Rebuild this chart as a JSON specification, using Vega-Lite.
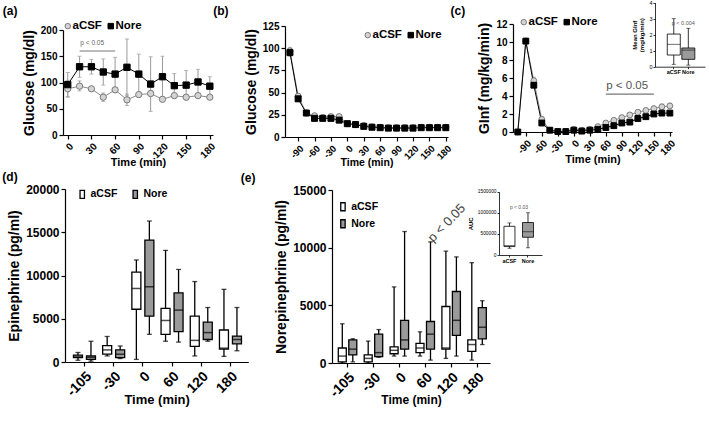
{
"$schema": "https://vega.github.io/schema/vega-lite/v6.json",
"width": 709, "height": 422,
"autosize": {"type": "none"},
"padding": 0,
"background": "white",
"config": {
 "font": "Liberation Sans",
 "view": {"stroke": null},
 "axis": {"grid": false, "domainColor": "#000", "tickColor": "#000", "labelColor": "#000", "titleColor": "#000", "domainWidth": 1.2, "tickWidth": 1.2, "tickSize": 4, "labelFontWeight": "bold", "titleFontWeight": "bold", "labelOverlap": false, "labelFlush": false, "labelPadding": 2},
 "legend": {"labelColor": "#000", "padding": 0}
},
"datasets": {
 "series": [
  {"panel":"a","group":"aCSF","time":0,"mean":88,"lo":72,"hi":104},
  {"panel":"a","group":"aCSF","time":15,"mean":93,"lo":84,"hi":103},
  {"panel":"a","group":"aCSF","time":30,"mean":88,"lo":86,"hi":90},
  {"panel":"a","group":"aCSF","time":45,"mean":72,"lo":64,"hi":80},
  {"panel":"a","group":"aCSF","time":60,"mean":86,"lo":82,"hi":90},
  {"panel":"a","group":"aCSF","time":75,"mean":67,"lo":56,"hi":78},
  {"panel":"a","group":"aCSF","time":90,"mean":77,"lo":73,"hi":81},
  {"panel":"a","group":"aCSF","time":105,"mean":79,"lo":74,"hi":84},
  {"panel":"a","group":"aCSF","time":120,"mean":68,"lo":66,"hi":70},
  {"panel":"a","group":"aCSF","time":135,"mean":75,"lo":72,"hi":78},
  {"panel":"a","group":"aCSF","time":150,"mean":72,"lo":69,"hi":75},
  {"panel":"a","group":"aCSF","time":165,"mean":75,"lo":72,"hi":78},
  {"panel":"a","group":"aCSF","time":180,"mean":72,"lo":69,"hi":75},
  {"panel":"a","group":"Nore","time":0,"mean":96,"lo":73,"hi":119},
  {"panel":"a","group":"Nore","time":15,"mean":130,"lo":110,"hi":150},
  {"panel":"a","group":"Nore","time":30,"mean":130,"lo":116,"hi":144},
  {"panel":"a","group":"Nore","time":45,"mean":120,"lo":95,"hi":145},
  {"panel":"a","group":"Nore","time":60,"mean":116,"lo":84,"hi":148},
  {"panel":"a","group":"Nore","time":75,"mean":129,"lo":75,"hi":183},
  {"panel":"a","group":"Nore","time":90,"mean":116,"lo":78,"hi":154},
  {"panel":"a","group":"Nore","time":105,"mean":97,"lo":45,"hi":149},
  {"panel":"a","group":"Nore","time":120,"mean":111,"lo":72,"hi":150},
  {"panel":"a","group":"Nore","time":135,"mean":94,"lo":71,"hi":117},
  {"panel":"a","group":"Nore","time":150,"mean":95,"lo":67,"hi":123},
  {"panel":"a","group":"Nore","time":165,"mean":101,"lo":77,"hi":125},
  {"panel":"a","group":"Nore","time":180,"mean":93,"lo":75,"hi":111},
  {"panel":"b","group":"aCSF","time":-105,"mean":97,"lo":93,"hi":101},
  {"panel":"b","group":"aCSF","time":-90,"mean":46,"lo":43,"hi":49},
  {"panel":"b","group":"aCSF","time":-75,"mean":27,"lo":25.5,"hi":28.5},
  {"panel":"b","group":"aCSF","time":-60,"mean":24,"lo":22,"hi":26},
  {"panel":"b","group":"aCSF","time":-45,"mean":22,"lo":20,"hi":24},
  {"panel":"b","group":"aCSF","time":-30,"mean":23,"lo":21,"hi":25},
  {"panel":"b","group":"aCSF","time":-15,"mean":23,"lo":21,"hi":25},
  {"panel":"b","group":"aCSF","time":0,"mean":15,"lo":14,"hi":16},
  {"panel":"b","group":"aCSF","time":15,"mean":14,"lo":13,"hi":15},
  {"panel":"b","group":"aCSF","time":30,"mean":13,"lo":12,"hi":14},
  {"panel":"b","group":"aCSF","time":45,"mean":11.5,"lo":10.5,"hi":12.5},
  {"panel":"b","group":"aCSF","time":60,"mean":11,"lo":10,"hi":12},
  {"panel":"b","group":"aCSF","time":75,"mean":10.5,"lo":9.5,"hi":11.5},
  {"panel":"b","group":"aCSF","time":90,"mean":10.5,"lo":9.5,"hi":11.5},
  {"panel":"b","group":"aCSF","time":105,"mean":10.5,"lo":9.5,"hi":11.5},
  {"panel":"b","group":"aCSF","time":120,"mean":10.5,"lo":9.5,"hi":11.5},
  {"panel":"b","group":"aCSF","time":135,"mean":11,"lo":10,"hi":12},
  {"panel":"b","group":"aCSF","time":150,"mean":11,"lo":10,"hi":12},
  {"panel":"b","group":"aCSF","time":165,"mean":11,"lo":10,"hi":12},
  {"panel":"b","group":"aCSF","time":180,"mean":11,"lo":10,"hi":12},
  {"panel":"b","group":"Nore","time":-105,"mean":95,"lo":91,"hi":99},
  {"panel":"b","group":"Nore","time":-90,"mean":43,"lo":40,"hi":46},
  {"panel":"b","group":"Nore","time":-75,"mean":27,"lo":25.5,"hi":28.5},
  {"panel":"b","group":"Nore","time":-60,"mean":21,"lo":19,"hi":23},
  {"panel":"b","group":"Nore","time":-45,"mean":21,"lo":19,"hi":23},
  {"panel":"b","group":"Nore","time":-30,"mean":21,"lo":19,"hi":23},
  {"panel":"b","group":"Nore","time":-15,"mean":19,"lo":17,"hi":21},
  {"panel":"b","group":"Nore","time":0,"mean":15,"lo":14,"hi":16},
  {"panel":"b","group":"Nore","time":15,"mean":14,"lo":13,"hi":15},
  {"panel":"b","group":"Nore","time":30,"mean":12,"lo":11,"hi":13},
  {"panel":"b","group":"Nore","time":45,"mean":11,"lo":10,"hi":12},
  {"panel":"b","group":"Nore","time":60,"mean":10.5,"lo":9.5,"hi":11.5},
  {"panel":"b","group":"Nore","time":75,"mean":10,"lo":9,"hi":11},
  {"panel":"b","group":"Nore","time":90,"mean":10,"lo":9,"hi":11},
  {"panel":"b","group":"Nore","time":105,"mean":10,"lo":9,"hi":11},
  {"panel":"b","group":"Nore","time":120,"mean":10,"lo":9,"hi":11},
  {"panel":"b","group":"Nore","time":135,"mean":10.5,"lo":9.5,"hi":11.5},
  {"panel":"b","group":"Nore","time":150,"mean":10.5,"lo":9.5,"hi":11.5},
  {"panel":"b","group":"Nore","time":165,"mean":10.5,"lo":9.5,"hi":11.5},
  {"panel":"b","group":"Nore","time":180,"mean":10.5,"lo":9.5,"hi":11.5},
  {"panel":"c","group":"aCSF","time":-105,"mean":0,"lo":0,"hi":0},
  {"panel":"c","group":"aCSF","time":-90,"mean":10.1,"lo":9.8,"hi":10.4},
  {"panel":"c","group":"aCSF","time":-75,"mean":5.7,"lo":5.3,"hi":6.1},
  {"panel":"c","group":"aCSF","time":-60,"mean":1.4,"lo":1.1,"hi":1.7},
  {"panel":"c","group":"aCSF","time":-45,"mean":0.2,"lo":0.1,"hi":0.3},
  {"panel":"c","group":"aCSF","time":-30,"mean":0.05,"lo":0,"hi":0.1},
  {"panel":"c","group":"aCSF","time":-15,"mean":0.05,"lo":0,"hi":0.1},
  {"panel":"c","group":"aCSF","time":0,"mean":0.3,"lo":0.2,"hi":0.4},
  {"panel":"c","group":"aCSF","time":15,"mean":0.2,"lo":0.1,"hi":0.3},
  {"panel":"c","group":"aCSF","time":30,"mean":0.3,"lo":0.2,"hi":0.4},
  {"panel":"c","group":"aCSF","time":45,"mean":0.6,"lo":0.5,"hi":0.7},
  {"panel":"c","group":"aCSF","time":60,"mean":1.0,"lo":0.85,"hi":1.15},
  {"panel":"c","group":"aCSF","time":75,"mean":1.3,"lo":1.15,"hi":1.45},
  {"panel":"c","group":"aCSF","time":90,"mean":1.6,"lo":1.45,"hi":1.75},
  {"panel":"c","group":"aCSF","time":105,"mean":1.9,"lo":1.75,"hi":2.05},
  {"panel":"c","group":"aCSF","time":120,"mean":2.2,"lo":2.0,"hi":2.4},
  {"panel":"c","group":"aCSF","time":135,"mean":2.4,"lo":2.2,"hi":2.6},
  {"panel":"c","group":"aCSF","time":150,"mean":2.6,"lo":2.35,"hi":2.85},
  {"panel":"c","group":"aCSF","time":165,"mean":2.8,"lo":2.5,"hi":3.1},
  {"panel":"c","group":"aCSF","time":180,"mean":2.9,"lo":2.6,"hi":3.2},
  {"panel":"c","group":"Nore","time":-105,"mean":0,"lo":0,"hi":0},
  {"panel":"c","group":"Nore","time":-90,"mean":10.1,"lo":9.8,"hi":10.4},
  {"panel":"c","group":"Nore","time":-75,"mean":5.2,"lo":4.9,"hi":5.5},
  {"panel":"c","group":"Nore","time":-60,"mean":1.0,"lo":0.7,"hi":1.3},
  {"panel":"c","group":"Nore","time":-45,"mean":0.2,"lo":0.1,"hi":0.3},
  {"panel":"c","group":"Nore","time":-30,"mean":0.05,"lo":0,"hi":0.1},
  {"panel":"c","group":"Nore","time":-15,"mean":0.05,"lo":0,"hi":0.1},
  {"panel":"c","group":"Nore","time":0,"mean":0.2,"lo":0.1,"hi":0.3},
  {"panel":"c","group":"Nore","time":15,"mean":0.1,"lo":0.05,"hi":0.15},
  {"panel":"c","group":"Nore","time":30,"mean":0.2,"lo":0.1,"hi":0.3},
  {"panel":"c","group":"Nore","time":45,"mean":0.3,"lo":0.2,"hi":0.4},
  {"panel":"c","group":"Nore","time":60,"mean":0.5,"lo":0.4,"hi":0.6},
  {"panel":"c","group":"Nore","time":75,"mean":0.7,"lo":0.6,"hi":0.8},
  {"panel":"c","group":"Nore","time":90,"mean":1.0,"lo":0.9,"hi":1.1},
  {"panel":"c","group":"Nore","time":105,"mean":1.1,"lo":1.0,"hi":1.2},
  {"panel":"c","group":"Nore","time":120,"mean":1.5,"lo":1.4,"hi":1.6},
  {"panel":"c","group":"Nore","time":135,"mean":1.7,"lo":1.6,"hi":1.8},
  {"panel":"c","group":"Nore","time":150,"mean":2.0,"lo":1.9,"hi":2.1},
  {"panel":"c","group":"Nore","time":165,"mean":2.1,"lo":2.0,"hi":2.2},
  {"panel":"c","group":"Nore","time":180,"mean":2.1,"lo":2.0,"hi":2.2}
 ],
 "boxes": [
  {"panel":"d","group":"aCSF","time":-105,"min":200,"q1":500,"med":650,"q3":800,"max":1100},
  {"panel":"d","group":"Nore","time":-105,"min":100,"q1":300,"med":550,"q3":700,"max":2400},
  {"panel":"d","group":"aCSF","time":-30,"min":700,"q1":900,"med":1400,"q3":1900,"max":2950},
  {"panel":"d","group":"Nore","time":-30,"min":400,"q1":500,"med":900,"q3":1400,"max":1850},
  {"panel":"d","group":"aCSF","time":0,"min":300,"q1":6100,"med":8500,"q3":10400,"max":11800},
  {"panel":"d","group":"Nore","time":0,"min":3200,"q1":5300,"med":8700,"q3":14100,"max":16300},
  {"panel":"d","group":"aCSF","time":60,"min":2400,"q1":3200,"med":4800,"q3":6200,"max":12900},
  {"panel":"d","group":"Nore","time":60,"min":2300,"q1":3500,"med":6000,"q3":8000,"max":10700},
  {"panel":"d","group":"aCSF","time":120,"min":700,"q1":1800,"med":2500,"q3":5300,"max":9300},
  {"panel":"d","group":"Nore","time":120,"min":2400,"q1":2600,"med":3400,"q3":4600,"max":6300},
  {"panel":"d","group":"aCSF","time":180,"min":650,"q1":1500,"med":1600,"q3":3700,"max":8400},
  {"panel":"d","group":"Nore","time":180,"min":1300,"q1":2100,"med":2600,"q3":3000,"max":6300},
  {"panel":"e","group":"aCSF","time":-105,"min":0,"q1":100,"med":600,"q3":1300,"max":3400},
  {"panel":"e","group":"Nore","time":-105,"min":100,"q1":700,"med":1200,"q3":2000,"max":2100},
  {"panel":"e","group":"aCSF","time":-30,"min":0,"q1":100,"med":400,"q3":700,"max":1900},
  {"panel":"e","group":"Nore","time":-30,"min":500,"q1":550,"med":900,"q3":2500,"max":2900},
  {"panel":"e","group":"aCSF","time":0,"min":600,"q1":800,"med":1100,"q3":1400,"max":6600},
  {"panel":"e","group":"Nore","time":0,"min":600,"q1":1200,"med":2000,"q3":3700,"max":11400},
  {"panel":"e","group":"aCSF","time":60,"min":600,"q1":900,"med":1300,"q3":1700,"max":2700},
  {"panel":"e","group":"Nore","time":60,"min":250,"q1":1200,"med":2500,"q3":3600,"max":10500},
  {"panel":"e","group":"aCSF","time":120,"min":400,"q1":1200,"med":1300,"q3":4900,"max":9700},
  {"panel":"e","group":"Nore","time":120,"min":600,"q1":2400,"med":3700,"q3":6200,"max":9200},
  {"panel":"e","group":"aCSF","time":180,"min":250,"q1":1000,"med":1600,"q3":2000,"max":8700},
  {"panel":"e","group":"Nore","time":180,"min":1600,"q1":2100,"med":3100,"q3":4800,"max":5400},
  {"panel":"ci","group":"aCSF","min":0.15,"q1":0.73,"med":1.4,"q3":2.04,"max":3.0},
  {"panel":"ci","group":"Nore","min":0.1,"q1":0.46,"med":1.04,"q3":1.17,"max":2.4},
  {"panel":"ei","group":"aCSF","min":160000,"q1":200000,"med":230000,"q3":680000,"max":760000},
  {"panel":"ei","group":"Nore","min":170000,"q1":420000,"med":550000,"q3":770000,"max":1000000}
 ]
},
"resolve": {"scale": {"x": "independent", "y": "independent", "xOffset": "independent", "fill": "independent", "stroke": "independent", "shape": "independent"}},
"layer": [
 {
  "data": {"name": "series"},
  "transform": [{"filter": "datum.panel === 'a'"}],
  "encoding": {
   "x": {"field": "time", "type": "quantitative", "scale": {"domain": [-6, 184], "range": [63, 213], "nice": false, "zero": false}, "axis": {"orient": "bottom", "offset": -287, "values": [0,30,60,90,120,150,180], "labelAngle": 315, "labelFontSize": 10, "title": "Time (min)", "titleFontSize": 11, "titlePadding": -3, "encoding": {"title": {"update": {"x": {"value": 140}, "y": {"value": 27}, "angle": {"value": 0}, "align": {"value": "center"}, "baseline": {"value": "middle"}}}}}}
  },
  "layer": [
   {"mark": {"type": "rule", "color": "#9a9a9a", "strokeWidth": 1},
    "encoding": {
     "y": {"field": "lo", "type": "quantitative", "scale": {"domain": [0, 200], "range": [135, 30], "nice": false, "zero": false}, "axis": {"orient": "left", "offset": -63, "values": [0,50,100,150,200], "format": "d", "labelFontSize": 10, "title": "Glucose (mg/dl)", "titleFontSize": 14, "encoding": {"title": {"update": {"x": {"value": -33.5}, "y": {"value": 79}, "angle": {"value": 270}, "align": {"value": "center"}, "baseline": {"value": "middle"}}}}}},
     "y2": {"field": "hi"}}},
   {"mark": {"type": "tick", "orient": "horizontal", "size": 4, "thickness": 1, "color": "#9a9a9a"},
    "encoding": {
     "y": {"field": "hi", "type": "quantitative", "scale": {"domain": [0, 200], "range": [135, 30], "nice": false, "zero": false}}}},
   {"mark": {"type": "tick", "orient": "horizontal", "size": 4, "thickness": 1, "color": "#9a9a9a"},
    "encoding": {
     "y": {"field": "lo", "type": "quantitative", "scale": {"domain": [0, 200], "range": [135, 30], "nice": false, "zero": false}}}},
   {"mark": {"type": "line", "strokeWidth": 1},
    "encoding": {
     "y": {"field": "mean", "type": "quantitative", "scale": {"domain": [0, 200], "range": [135, 30], "nice": false, "zero": false}},
     "detail": {"field": "group"},
     "stroke": {"condition": {"test": "datum.group === 'Nore'", "value": "#000000"}, "value": "#8c8c8c"}}},
   {"mark": {"type": "point", "filled": true, "opacity": 1, "size": 40, "strokeWidth": 1},
    "encoding": {
     "y": {"field": "mean", "type": "quantitative", "scale": {"domain": [0, 200], "range": [135, 30], "nice": false, "zero": false}},
     "shape": {"field": "group", "type": "nominal", "scale": {"domain": ["aCSF", "Nore"], "range": ["circle", "square"]}, "legend": {"orient": "none", "legendX": 62, "legendY": 20, "direction": "horizontal", "title": null, "labelFontSize": 11.5, "labelFontWeight": "bold", "labelOffset": -1, "columnPadding": 3, "symbolSize": 30, "symbolStrokeWidth": 1, "symbolOpacity": 1, "padding": 0}},
     "fill": {"field": "group", "type": "nominal", "scale": {"domain": ["aCSF", "Nore"], "range": ["#d4d4d4", "#000000"]}, "legend": {"orient": "none", "legendX": 62, "legendY": 20, "direction": "horizontal", "title": null, "labelFontSize": 11.5, "labelFontWeight": "bold", "labelOffset": -1, "columnPadding": 3, "symbolSize": 30, "symbolStrokeWidth": 1, "symbolOpacity": 1, "padding": 0}},
     "stroke": {"field": "group", "type": "nominal", "scale": {"domain": ["aCSF", "Nore"], "range": ["#7a7a7a", "#000000"]}, "legend": {"orient": "none", "legendX": 62, "legendY": 20, "direction": "horizontal", "title": null, "labelFontSize": 11.5, "labelFontWeight": "bold", "labelOffset": -1, "columnPadding": 3, "symbolSize": 30, "symbolStrokeWidth": 1, "symbolOpacity": 1, "padding": 0}}}},
   {"data": {"values": [{"x1": 15, "x2": 60, "yv": 160}]},
    "mark": {"type": "rule", "color": "#777777", "strokeWidth": 1.2},
    "encoding": {
     "x": {"field": "x1", "type": "quantitative", "scale": {"domain": [-6, 184], "range": [63, 213], "nice": false, "zero": false}},
     "x2": {"field": "x2"},
     "y": {"field": "yv", "type": "quantitative", "scale": {"domain": [0, 200], "range": [135, 30], "nice": false, "zero": false}}}},
   {"data": {"values": [{"xv": 31, "yv": 174.7, "label": "p < 0.05"}]},
    "mark": {"type": "text", "fontSize": 6.5, "color": "#666666", "align": "center", "baseline": "middle"},
    "encoding": {
     "text": {"field": "label"},
     "x": {"field": "xv", "type": "quantitative", "scale": {"domain": [-6, 184], "range": [63, 213], "nice": false, "zero": false}},
     "y": {"field": "yv", "type": "quantitative", "scale": {"domain": [0, 200], "range": [135, 30], "nice": false, "zero": false}}}},
   {"data": {"values": [{"xv": 0, "yv": 200, "label": "(a)"}]},
    "mark": {"type": "text", "fontSize": 12, "fontWeight": "bold", "color": "#000", "align": "center", "baseline": "middle", "dx": -57.7, "dy": -19},
    "encoding": {
     "text": {"field": "label"},
     "x": {"field": "xv", "type": "quantitative", "scale": {"domain": [-6, 184], "range": [63, 213], "nice": false, "zero": false}},
     "y": {"field": "yv", "type": "quantitative", "scale": {"domain": [0, 200], "range": [135, 30], "nice": false, "zero": false}}}}
  ]
 },
 {
  "data": {"name": "series"},
  "transform": [{"filter": "datum.panel === 'b'"}],
  "encoding": {
   "x": {"field": "time", "type": "quantitative", "scale": {"domain": [-114, 184], "range": [285, 448], "nice": false, "zero": false}, "axis": {"orient": "bottom", "offset": -285, "values": [-90,-60,-30,0,30,60,90,120,150,180], "labelExpr": "'' + datum.value", "labelAngle": 315, "labelFontSize": 9.5, "title": "Time (min)", "titleFontSize": 10.5, "titlePadding": -3, "encoding": {"title": {"update": {"x": {"value": 372}, "y": {"value": 33}, "angle": {"value": 0}, "align": {"value": "center"}, "baseline": {"value": "middle"}}}}}}
  },
  "layer": [
   {"mark": {"type": "rule", "color": "#9a9a9a", "strokeWidth": 1},
    "encoding": {
     "y": {"field": "lo", "type": "quantitative", "scale": {"domain": [0, 125], "range": [137, 26], "nice": false, "zero": false}, "axis": {"orient": "left", "offset": -285, "values": [0,25,50,75,100,125], "format": "d", "labelFontSize": 10, "title": "Glucose (mg/dl)", "titleFontSize": 14, "encoding": {"title": {"update": {"x": {"value": -36}, "y": {"value": 74}, "angle": {"value": 270}, "align": {"value": "center"}, "baseline": {"value": "middle"}}}}}},
     "y2": {"field": "hi"}}},
   {"mark": {"type": "tick", "orient": "horizontal", "size": 4, "thickness": 1, "color": "#9a9a9a"},
    "encoding": {
     "y": {"field": "hi", "type": "quantitative", "scale": {"domain": [0, 125], "range": [137, 26], "nice": false, "zero": false}}}},
   {"mark": {"type": "tick", "orient": "horizontal", "size": 4, "thickness": 1, "color": "#9a9a9a"},
    "encoding": {
     "y": {"field": "lo", "type": "quantitative", "scale": {"domain": [0, 125], "range": [137, 26], "nice": false, "zero": false}}}},
   {"mark": {"type": "line", "strokeWidth": 1},
    "encoding": {
     "y": {"field": "mean", "type": "quantitative", "scale": {"domain": [0, 125], "range": [137, 26], "nice": false, "zero": false}},
     "detail": {"field": "group"},
     "stroke": {"condition": {"test": "datum.group === 'Nore'", "value": "#000000"}, "value": "#8c8c8c"}}},
   {"mark": {"type": "point", "filled": true, "opacity": 1, "size": 36, "strokeWidth": 1},
    "encoding": {
     "y": {"field": "mean", "type": "quantitative", "scale": {"domain": [0, 125], "range": [137, 26], "nice": false, "zero": false}},
     "shape": {"field": "group", "type": "nominal", "scale": {"domain": ["aCSF", "Nore"], "range": ["circle", "square"]}, "legend": {"orient": "none", "legendX": 362, "legendY": 29, "direction": "horizontal", "title": null, "labelFontSize": 11.5, "labelFontWeight": "bold", "labelOffset": -1, "columnPadding": 3, "symbolSize": 30, "symbolStrokeWidth": 1, "symbolOpacity": 1, "padding": 0}},
     "fill": {"field": "group", "type": "nominal", "scale": {"domain": ["aCSF", "Nore"], "range": ["#d4d4d4", "#000000"]}, "legend": {"orient": "none", "legendX": 362, "legendY": 29, "direction": "horizontal", "title": null, "labelFontSize": 11.5, "labelFontWeight": "bold", "labelOffset": -1, "columnPadding": 3, "symbolSize": 30, "symbolStrokeWidth": 1, "symbolOpacity": 1, "padding": 0}},
     "stroke": {"field": "group", "type": "nominal", "scale": {"domain": ["aCSF", "Nore"], "range": ["#7a7a7a", "#000000"]}, "legend": {"orient": "none", "legendX": 362, "legendY": 29, "direction": "horizontal", "title": null, "labelFontSize": 11.5, "labelFontWeight": "bold", "labelOffset": -1, "columnPadding": 3, "symbolSize": 30, "symbolStrokeWidth": 1, "symbolOpacity": 1, "padding": 0}}}},
   {"data": {"values": [{"xv": -105, "yv": 125, "label": "(b)"}]},
    "mark": {"type": "text", "fontSize": 12, "fontWeight": "bold", "color": "#000", "align": "center", "baseline": "middle", "dx": -69, "dy": -15},
    "encoding": {
     "text": {"field": "label"},
     "x": {"field": "xv", "type": "quantitative", "scale": {"domain": [-114, 184], "range": [285, 448], "nice": false, "zero": false}},
     "y": {"field": "yv", "type": "quantitative", "scale": {"domain": [0, 125], "range": [137, 26], "nice": false, "zero": false}}}}
  ]
 },
 {
  "data": {"name": "series"},
  "transform": [{"filter": "datum.panel === 'c'"}],
  "encoding": {
   "x": {"field": "time", "type": "quantitative", "scale": {"domain": [-114, 184], "range": [513, 672], "nice": false, "zero": false}, "axis": {"orient": "bottom", "offset": -290, "values": [-90,-60,-30,0,30,60,90,120,150,180], "labelExpr": "'' + datum.value", "labelAngle": 315, "labelFontSize": 10, "title": "Time (min)", "titleFontSize": 11, "titlePadding": -3, "encoding": {"title": {"update": {"x": {"value": 598}, "y": {"value": 31}, "angle": {"value": 0}, "align": {"value": "center"}, "baseline": {"value": "middle"}}}}}}
  },
  "layer": [
   {"mark": {"type": "rule", "color": "#9a9a9a", "strokeWidth": 1},
    "encoding": {
     "y": {"field": "lo", "type": "quantitative", "scale": {"domain": [0, 12], "range": [132, 24], "nice": false, "zero": false}, "axis": {"orient": "left", "offset": -513, "values": [0,2,4,6,8,10,12], "format": "d", "labelFontSize": 10, "title": "GInf (mg/kg/min)", "titleFontSize": 14, "encoding": {"title": {"update": {"x": {"value": -29}, "y": {"value": 72}, "angle": {"value": 270}, "align": {"value": "center"}, "baseline": {"value": "middle"}}}}}},
     "y2": {"field": "hi"}}},
   {"mark": {"type": "tick", "orient": "horizontal", "size": 4, "thickness": 1, "color": "#9a9a9a"},
    "encoding": {
     "y": {"field": "hi", "type": "quantitative", "scale": {"domain": [0, 12], "range": [132, 24], "nice": false, "zero": false}}}},
   {"mark": {"type": "tick", "orient": "horizontal", "size": 4, "thickness": 1, "color": "#9a9a9a"},
    "encoding": {
     "y": {"field": "lo", "type": "quantitative", "scale": {"domain": [0, 12], "range": [132, 24], "nice": false, "zero": false}}}},
   {"mark": {"type": "line", "strokeWidth": 1},
    "encoding": {
     "y": {"field": "mean", "type": "quantitative", "scale": {"domain": [0, 12], "range": [132, 24], "nice": false, "zero": false}},
     "detail": {"field": "group"},
     "stroke": {"condition": {"test": "datum.group === 'Nore'", "value": "#000000"}, "value": "#8c8c8c"}}},
   {"mark": {"type": "point", "filled": true, "opacity": 1, "size": 34, "strokeWidth": 1},
    "encoding": {
     "y": {"field": "mean", "type": "quantitative", "scale": {"domain": [0, 12], "range": [132, 24], "nice": false, "zero": false}},
     "shape": {"field": "group", "type": "nominal", "scale": {"domain": ["aCSF", "Nore"], "range": ["circle", "square"]}, "legend": {"orient": "none", "legendX": 518, "legendY": 16, "direction": "horizontal", "title": null, "labelFontSize": 11.5, "labelFontWeight": "bold", "labelOffset": -1, "columnPadding": 3, "symbolSize": 30, "symbolStrokeWidth": 1, "symbolOpacity": 1, "padding": 0}},
     "fill": {"field": "group", "type": "nominal", "scale": {"domain": ["aCSF", "Nore"], "range": ["#d4d4d4", "#000000"]}, "legend": {"orient": "none", "legendX": 518, "legendY": 16, "direction": "horizontal", "title": null, "labelFontSize": 11.5, "labelFontWeight": "bold", "labelOffset": -1, "columnPadding": 3, "symbolSize": 30, "symbolStrokeWidth": 1, "symbolOpacity": 1, "padding": 0}},
     "stroke": {"field": "group", "type": "nominal", "scale": {"domain": ["aCSF", "Nore"], "range": ["#7a7a7a", "#000000"]}, "legend": {"orient": "none", "legendX": 518, "legendY": 16, "direction": "horizontal", "title": null, "labelFontSize": 11.5, "labelFontWeight": "bold", "labelOffset": -1, "columnPadding": 3, "symbolSize": 30, "symbolStrokeWidth": 1, "symbolOpacity": 1, "padding": 0}}}},
   {"data": {"values": [{"x1": 60, "x2": 150, "yv": 4.2}]},
    "mark": {"type": "rule", "color": "#777777", "strokeWidth": 1.2},
    "encoding": {
     "x": {"field": "x1", "type": "quantitative", "scale": {"domain": [-114, 184], "range": [513, 672], "nice": false, "zero": false}},
     "x2": {"field": "x2"},
     "y": {"field": "yv", "type": "quantitative", "scale": {"domain": [0, 12], "range": [132, 24], "nice": false, "zero": false}}}},
   {"data": {"values": [{"xv": 100, "yv": 5.1, "label": "p < 0.05"}]},
    "mark": {"type": "text", "fontSize": 11.5, "color": "#555555", "align": "center", "baseline": "middle"},
    "encoding": {
     "text": {"field": "label"},
     "x": {"field": "xv", "type": "quantitative", "scale": {"domain": [-114, 184], "range": [513, 672], "nice": false, "zero": false}},
     "y": {"field": "yv", "type": "quantitative", "scale": {"domain": [0, 12], "range": [132, 24], "nice": false, "zero": false}}}},
   {"data": {"values": [{"xv": -105, "yv": 12, "label": "(c)"}]},
    "mark": {"type": "text", "fontSize": 12, "fontWeight": "bold", "color": "#000", "align": "center", "baseline": "middle", "dx": -60, "dy": -13},
    "encoding": {
     "text": {"field": "label"},
     "x": {"field": "xv", "type": "quantitative", "scale": {"domain": [-114, 184], "range": [513, 672], "nice": false, "zero": false}},
     "y": {"field": "yv", "type": "quantitative", "scale": {"domain": [0, 12], "range": [132, 24], "nice": false, "zero": false}}}}
  ]
 },
 {
  "data": {"name": "boxes"},
  "transform": [{"filter": "datum.panel === 'ci'"}],
  "encoding": {
   "x": {"field": "group", "type": "nominal", "scale": {"type": "band", "domain": ["aCSF", "Nore"], "range": [655, 705], "paddingInner": 0, "paddingOuter": 0.72, "align": 0.55}, "axis": {"orient": "bottom", "offset": -355.3, "labelAngle": 0, "labelFontSize": 5.5, "tickSize": 2, "labelPadding": 1, "domainWidth": 0.8, "tickWidth": 0.8, "title": null}}
  },
  "layer": [
   {"mark": {"type": "rule", "color": "#000", "strokeWidth": 0.8},
    "encoding": {
     "y": {"field": "min", "type": "quantitative", "scale": {"domain": [0, 4], "range": [66.7, 2.7], "nice": false, "zero": false}, "axis": {"orient": "left", "offset": -655, "values": [0,1,2,3,4], "format": "d", "labelFontSize": 5.5, "labelFontWeight": "normal", "tickSize": 2, "labelPadding": 1, "domainWidth": 0.8, "tickWidth": 0.8, "title": ["Mean GInf", "(mg/kg/min)"], "titleFontSize": 6, "titleLineHeight": 7, "encoding": {"title": {"update": {"x": {"value": -11}, "y": {"value": 31}, "angle": {"value": 270}, "align": {"value": "center"}, "baseline": {"value": "middle"}}}}}},
     "y2": {"field": "max"}}},
   {"mark": {"type": "tick", "orient": "horizontal", "size": 4, "thickness": 0.8, "color": "#000"},
    "encoding": {
     "y": {"field": "max", "type": "quantitative", "scale": {"domain": [0, 4], "range": [66.7, 2.7], "nice": false, "zero": false}}}},
   {"mark": {"type": "tick", "orient": "horizontal", "size": 4, "thickness": 0.8, "color": "#000"},
    "encoding": {
     "y": {"field": "min", "type": "quantitative", "scale": {"domain": [0, 4], "range": [66.7, 2.7], "nice": false, "zero": false}}}},
   {"mark": {"type": "bar", "width": 13, "stroke": "#000", "strokeWidth": 0.8},
    "encoding": {
     "y": {"field": "q1", "type": "quantitative", "scale": {"domain": [0, 4], "range": [66.7, 2.7], "nice": false, "zero": false}},
     "y2": {"field": "q3"},
     "fill": {"field": "group", "type": "nominal", "scale": {"domain": ["aCSF", "Nore"], "range": ["#ffffff", "#9a9a9a"]}, "legend": null}}},
   {"mark": {"type": "tick", "orient": "horizontal", "size": 13, "thickness": 0.8, "color": "#000"},
    "encoding": {
     "y": {"field": "med", "type": "quantitative", "scale": {"domain": [0, 4], "range": [66.7, 2.7], "nice": false, "zero": false}}}},
   {"data": {"values": [{"group": "Nore", "yv": 2.75, "label": "p < 0.004"}]},
    "mark": {"type": "text", "fontSize": 5.5, "color": "#555555", "align": "center", "baseline": "middle", "dx": -5},
    "encoding": {
     "text": {"field": "label"},
     "y": {"field": "yv", "type": "quantitative", "scale": {"domain": [0, 4], "range": [66.7, 2.7], "nice": false, "zero": false}}}}
  ]
 },
 {
  "data": {"name": "boxes"},
  "transform": [{"filter": "datum.panel === 'd'"}],
  "encoding": {
   "x": {"field": "time", "type": "ordinal", "scale": {"type": "band", "domain": [-105,-30,0,60,120,180], "range": [65, 248.3], "paddingInner": 0, "paddingOuter": 0.139, "align": 0.6}, "axis": {"orient": "bottom", "offset": -60, "labelAngle": 315, "labelFontSize": 14, "labelPadding": 3, "title": "Time (min)", "titleFontSize": 13, "titlePadding": -5, "encoding": {"title": {"update": {"x": {"value": 155}, "y": {"value": 36}, "angle": {"value": 0}, "align": {"value": "center"}, "baseline": {"value": "middle"}}}}}}
  },
  "layer": [
   {"mark": {"type": "rule", "color": "#000", "strokeWidth": 1.3},
    "encoding": {
     "xOffset": {"field": "group", "type": "nominal", "scale": {"domain": ["aCSF", "Nore"], "paddingInner": 0, "paddingOuter": 0.123}},
     "y": {"field": "min", "type": "quantitative", "scale": {"domain": [0, 20000], "range": [362, 189], "nice": false, "zero": false}, "axis": {"orient": "left", "offset": -65, "values": [0,5000,10000,15000,20000], "format": "d", "labelFontSize": 12, "title": "Epinephrine (pg/ml)", "titleFontSize": 14, "encoding": {"title": {"update": {"x": {"value": -47}, "y": {"value": 293}, "angle": {"value": 270}, "align": {"value": "center"}, "baseline": {"value": "middle"}}}}}},
     "y2": {"field": "max"}}},
   {"mark": {"type": "tick", "orient": "horizontal", "size": 5, "thickness": 1.3, "color": "#000"},
    "encoding": {
     "xOffset": {"field": "group", "type": "nominal", "scale": {"domain": ["aCSF", "Nore"], "paddingInner": 0, "paddingOuter": 0.123}},
     "y": {"field": "max", "type": "quantitative", "scale": {"domain": [0, 20000], "range": [362, 189], "nice": false, "zero": false}}}},
   {"mark": {"type": "tick", "orient": "horizontal", "size": 5, "thickness": 1.3, "color": "#000"},
    "encoding": {
     "xOffset": {"field": "group", "type": "nominal", "scale": {"domain": ["aCSF", "Nore"], "paddingInner": 0, "paddingOuter": 0.123}},
     "y": {"field": "min", "type": "quantitative", "scale": {"domain": [0, 20000], "range": [362, 189], "nice": false, "zero": false}}}},
   {"mark": {"type": "bar", "width": 9, "stroke": "#000", "strokeWidth": 1.3},
    "encoding": {
     "xOffset": {"field": "group", "type": "nominal", "scale": {"domain": ["aCSF", "Nore"], "paddingInner": 0, "paddingOuter": 0.123}},
     "y": {"field": "q1", "type": "quantitative", "scale": {"domain": [0, 20000], "range": [362, 189], "nice": false, "zero": false}},
     "y2": {"field": "q3"},
     "fill": {"field": "group", "type": "nominal", "scale": {"domain": ["aCSF", "Nore"], "range": ["#ffffff", "#9a9a9a"]}, "legend": {"orient": "none", "legendX": 77, "legendY": 189, "direction": "horizontal", "title": null, "symbolType": "M-0.55,-1H0.55V1H-0.55Z", "symbolSize": 64, "symbolStrokeColor": "#000", "symbolStrokeWidth": 1.3, "symbolOpacity": 1, "labelFontSize": 10.5, "labelFontWeight": "bold", "labelOffset": 3, "columnPadding": 12, "padding": 0}}}},
   {"mark": {"type": "tick", "orient": "horizontal", "size": 9, "thickness": 1.5, "color": "#000"},
    "encoding": {
     "xOffset": {"field": "group", "type": "nominal", "scale": {"domain": ["aCSF", "Nore"], "paddingInner": 0, "paddingOuter": 0.123}},
     "y": {"field": "med", "type": "quantitative", "scale": {"domain": [0, 20000], "range": [362, 189], "nice": false, "zero": false}}}},
   {"data": {"values": [{"time": -105, "yv": 20000, "label": "(d)"}]},
    "mark": {"type": "text", "fontSize": 12, "fontWeight": "bold", "color": "#000", "align": "center", "baseline": "middle", "dx": -74.5, "dy": -12},
    "encoding": {
     "text": {"field": "label"},
     "y": {"field": "yv", "type": "quantitative", "scale": {"domain": [0, 20000], "range": [362, 189], "nice": false, "zero": false}}}}
  ]
 },
 {
  "data": {"name": "boxes"},
  "transform": [{"filter": "datum.panel === 'e'"}],
  "encoding": {
   "x": {"field": "time", "type": "ordinal", "scale": {"type": "band", "domain": [-105,-30,0,60,120,180], "range": [332, 490], "paddingInner": 0, "paddingOuter": 0.05, "align": 1}, "axis": {"orient": "bottom", "offset": -59, "labelAngle": 315, "labelFontSize": 14, "labelPadding": 3, "title": "Time (min)", "titleFontSize": 12, "titlePadding": -5, "encoding": {"title": {"update": {"x": {"value": 407}, "y": {"value": 37}, "angle": {"value": 0}, "align": {"value": "center"}, "baseline": {"value": "middle"}}}}}}
  },
  "layer": [
   {"mark": {"type": "rule", "color": "#000", "strokeWidth": 1.3},
    "encoding": {
     "xOffset": {"field": "group", "type": "nominal", "scale": {"domain": ["aCSF", "Nore"], "paddingInner": 0, "paddingOuter": 0.233}},
     "y": {"field": "min", "type": "quantitative", "scale": {"domain": [0, 15000], "range": [363, 190], "nice": false, "zero": false}, "axis": {"orient": "left", "offset": -332, "values": [0,5000,10000,15000], "format": "d", "labelFontSize": 12, "title": "Norepinephrine (pg/ml)", "titleFontSize": 14, "encoding": {"title": {"update": {"x": {"value": -41}, "y": {"value": 282}, "angle": {"value": 270}, "align": {"value": "center"}, "baseline": {"value": "middle"}}}}}},
     "y2": {"field": "max"}}},
   {"mark": {"type": "tick", "orient": "horizontal", "size": 4.5, "thickness": 1.3, "color": "#000"},
    "encoding": {
     "xOffset": {"field": "group", "type": "nominal", "scale": {"domain": ["aCSF", "Nore"], "paddingInner": 0, "paddingOuter": 0.233}},
     "y": {"field": "max", "type": "quantitative", "scale": {"domain": [0, 15000], "range": [363, 190], "nice": false, "zero": false}}}},
   {"mark": {"type": "tick", "orient": "horizontal", "size": 4.5, "thickness": 1.3, "color": "#000"},
    "encoding": {
     "xOffset": {"field": "group", "type": "nominal", "scale": {"domain": ["aCSF", "Nore"], "paddingInner": 0, "paddingOuter": 0.233}},
     "y": {"field": "min", "type": "quantitative", "scale": {"domain": [0, 15000], "range": [363, 190], "nice": false, "zero": false}}}},
   {"mark": {"type": "bar", "width": 8, "stroke": "#000", "strokeWidth": 1.3},
    "encoding": {
     "xOffset": {"field": "group", "type": "nominal", "scale": {"domain": ["aCSF", "Nore"], "paddingInner": 0, "paddingOuter": 0.233}},
     "y": {"field": "q1", "type": "quantitative", "scale": {"domain": [0, 15000], "range": [363, 190], "nice": false, "zero": false}},
     "y2": {"field": "q3"},
     "fill": {"field": "group", "type": "nominal", "scale": {"domain": ["aCSF", "Nore"], "range": ["#ffffff", "#9a9a9a"]}, "legend": {"orient": "none", "legendX": 337.7, "legendY": 201.5, "direction": "vertical", "title": null, "symbolType": "M-0.55,-1H0.55V1H-0.55Z", "symbolSize": 64, "symbolStrokeColor": "#000", "symbolStrokeWidth": 1.3, "symbolOpacity": 1, "labelFontSize": 10.5, "labelFontWeight": "bold", "labelOffset": 3, "rowPadding": 3, "padding": 0}}}},
   {"mark": {"type": "tick", "orient": "horizontal", "size": 8, "thickness": 1.5, "color": "#000"},
    "encoding": {
     "xOffset": {"field": "group", "type": "nominal", "scale": {"domain": ["aCSF", "Nore"], "paddingInner": 0, "paddingOuter": 0.233}},
     "y": {"field": "med", "type": "quantitative", "scale": {"domain": [0, 15000], "range": [363, 190], "nice": false, "zero": false}}}},
   {"data": {"values": [{"time": 120, "yv": 12546, "label": "p < 0.05"}]},
    "mark": {"type": "text", "fontSize": 13, "color": "#444444", "align": "center", "baseline": "middle", "angle": 314, "dx": -6.5},
    "encoding": {
     "text": {"field": "label"},
     "y": {"field": "yv", "type": "quantitative", "scale": {"domain": [0, 15000], "range": [363, 190], "nice": false, "zero": false}}}},
   {"data": {"values": [{"time": -105, "yv": 15000, "label": "(e)"}]},
    "mark": {"type": "text", "fontSize": 12, "fontWeight": "bold", "color": "#000", "align": "center", "baseline": "middle", "dx": -99.5, "dy": -12},
    "encoding": {
     "text": {"field": "label"},
     "y": {"field": "yv", "type": "quantitative", "scale": {"domain": [0, 15000], "range": [363, 190], "nice": false, "zero": false}}}}
  ]
 },
 {
  "data": {"name": "boxes"},
  "transform": [{"filter": "datum.panel === 'ei'"}],
  "encoding": {
   "x": {"field": "group", "type": "nominal", "scale": {"type": "band", "domain": ["aCSF", "Nore"], "range": [499, 542], "paddingInner": 0, "paddingOuter": 0.16, "align": 0.2}, "axis": {"orient": "bottom", "offset": -167, "labelAngle": 0, "labelFontSize": 5.5, "tickSize": 2, "labelPadding": 1, "domainWidth": 0.8, "tickWidth": 0.8, "title": null}}
  },
  "layer": [
   {"mark": {"type": "rule", "color": "#000", "strokeWidth": 0.8},
    "encoding": {
     "y": {"field": "min", "type": "quantitative", "scale": {"domain": [0, 1500000], "range": [255, 191.7], "nice": false, "zero": false}, "axis": {"orient": "left", "offset": -499, "values": [0,500000,1000000,1500000], "format": "d", "labelFontSize": 4.8, "labelFontWeight": "normal", "tickSize": 2, "labelPadding": 1, "domainWidth": 0.8, "tickWidth": 0.8, "title": "AUC", "titleFontSize": 6, "encoding": {"title": {"update": {"x": {"value": -27}, "y": {"value": 217}, "angle": {"value": 270}, "align": {"value": "center"}, "baseline": {"value": "middle"}}}}}},
     "y2": {"field": "max"}}},
   {"mark": {"type": "tick", "orient": "horizontal", "size": 4, "thickness": 0.8, "color": "#000"},
    "encoding": {
     "y": {"field": "max", "type": "quantitative", "scale": {"domain": [0, 1500000], "range": [255, 191.7], "nice": false, "zero": false}}}},
   {"mark": {"type": "tick", "orient": "horizontal", "size": 4, "thickness": 0.8, "color": "#000"},
    "encoding": {
     "y": {"field": "min", "type": "quantitative", "scale": {"domain": [0, 1500000], "range": [255, 191.7], "nice": false, "zero": false}}}},
   {"mark": {"type": "bar", "width": 11, "stroke": "#000", "strokeWidth": 0.8},
    "encoding": {
     "y": {"field": "q1", "type": "quantitative", "scale": {"domain": [0, 1500000], "range": [255, 191.7], "nice": false, "zero": false}},
     "y2": {"field": "q3"},
     "fill": {"field": "group", "type": "nominal", "scale": {"domain": ["aCSF", "Nore"], "range": ["#ffffff", "#9a9a9a"]}, "legend": null}}},
   {"mark": {"type": "tick", "orient": "horizontal", "size": 11, "thickness": 0.8, "color": "#000"},
    "encoding": {
     "y": {"field": "med", "type": "quantitative", "scale": {"domain": [0, 1500000], "range": [255, 191.7], "nice": false, "zero": false}}}},
   {"data": {"values": [{"group": "Nore", "yv": 1130000, "label": "p < 0.03"}]},
    "mark": {"type": "text", "fontSize": 5, "color": "#555555", "align": "center", "baseline": "middle", "dx": -9},
    "encoding": {
     "text": {"field": "label"},
     "y": {"field": "yv", "type": "quantitative", "scale": {"domain": [0, 1500000], "range": [255, 191.7], "nice": false, "zero": false}}}}
  ]
 }
]
}
